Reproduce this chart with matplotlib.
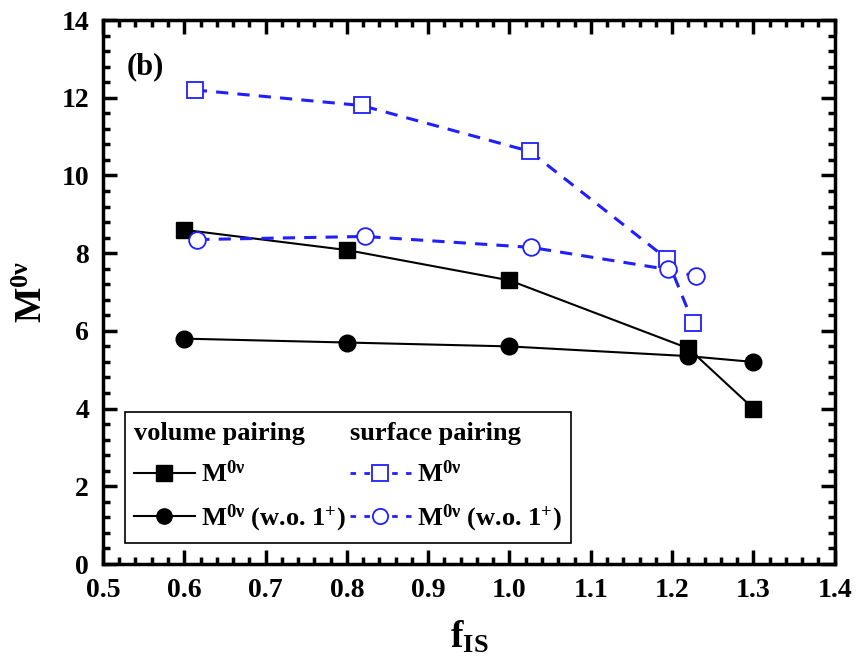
import matplotlib
matplotlib.use("Agg")
import matplotlib.pyplot as plt
from matplotlib.lines import Line2D
from matplotlib.ticker import MultipleLocator

plt.rcParams["font.family"] = ["Liberation Serif", "DejaVu Serif"]
plt.rcParams["font.weight"] = "bold"
plt.rcParams["mathtext.fontset"] = "custom"
plt.rcParams["mathtext.rm"] = "Liberation Serif:bold"
plt.rcParams["mathtext.it"] = "Liberation Serif:bold"
plt.rcParams["mathtext.bf"] = "Liberation Serif:bold"

# volume pairing
vol_x = [0.6, 0.8, 1.0, 1.22, 1.3]
vol_m = [8.6, 8.08, 7.3, 5.55, 4.0]
vol_m_wo = [5.8, 5.7, 5.6, 5.35, 5.2]

# surface pairing
surf_x_m = [0.613, 0.818, 1.025, 1.194, 1.226]
surf_m = [12.2, 11.8, 10.62, 7.85, 6.2]
surf_x_wo = [0.616, 0.822, 1.026, 1.195, 1.23]
surf_m_wo = [8.35, 8.43, 8.15, 7.58, 7.4]

M = r"$\mathrm{M}^{0\nu}$"
blue = "#1f1fff"

fig = plt.figure(figsize=(8.65, 6.67), dpi=100)
ax = fig.add_axes([0.119, 0.1544, 0.846, 0.8156])

ax.plot(vol_x, vol_m, "-s", color="black", lw=1.5, ms=11)
ax.plot(vol_x, vol_m_wo, "-o", color="black", lw=1.5, ms=12)
ax.plot(surf_x_m, surf_m, "--s", color=blue, lw=2.2, ms=11, mfc="white",
        mec=blue, mew=1.3, dashes=(4, 3))
ax.plot(surf_x_wo, surf_m_wo, "--o", color=blue, lw=2.2, ms=12, mfc="white",
        mec=blue, mew=1.3, dashes=(4, 3))

ax.set_xlim(0.5, 1.4)
ax.set_ylim(0, 14)
ax.xaxis.set_major_locator(MultipleLocator(0.1))
ax.xaxis.set_minor_locator(MultipleLocator(0.02))
ax.yaxis.set_major_locator(MultipleLocator(2))
ax.yaxis.set_minor_locator(MultipleLocator(0.4))
ax.xaxis.set_major_formatter(matplotlib.ticker.FormatStrFormatter("%.1f"))
ax.tick_params(which="both", direction="in", top=True, right=True,
               labelsize=20, width=2.5)
ax.tick_params(which="major", length=10, pad=10)
ax.tick_params(which="minor", length=5)
for s in ax.spines.values():
    s.set_linewidth(2.5)

ax.set_xlabel(r"$\mathrm{f}_{\mathrm{IS}}$", fontsize=27, labelpad=12)
ax.set_ylabel(M, fontsize=27, labelpad=8)
ax.text(0.033, 0.9, "(b)", transform=ax.transAxes, fontsize=22,
        fontweight="bold")

blank = Line2D([], [], linestyle="none")
h_sq = Line2D([], [], color="black", lw=1.5, marker="s", ms=11)
h_ci = Line2D([], [], color="black", lw=1.5, marker="o", ms=11)
h_bsq = Line2D([], [], color=blue, lw=2, ls="--", dashes=(2, 3), marker="s",
               ms=11, mfc="white", mec=blue, mew=1.3)
h_bci = Line2D([], [], color=blue, lw=2, ls="--", dashes=(2, 3), marker="o",
               ms=11, mfc="white", mec=blue, mew=1.3)
handles = [blank, h_sq, h_ci, blank, h_bsq, h_bci]
labels = ["volume pairing", M, M + " (w.o. 1$^{+}$)",
          "surface pairing", M, M + " (w.o. 1$^{+}$)"]
leg = ax.legend(handles, labels, ncol=2, loc="lower left",
                bbox_to_anchor=(0.03, 0.038), borderaxespad=0,
                fontsize=19, handlelength=2.3,
                handletextpad=0.25, columnspacing=0.15, labelspacing=0.6,
                fancybox=False, edgecolor="black", framealpha=1,
                borderpad=0.35)
leg.get_frame().set_linewidth(1.2)
# headers: drop the empty handle so the text starts at the column edge
for col in leg._legend_handle_box.get_children():
    hp = col.get_children()[0]
    hp._children = [hp._children[1]]

fig.savefig("out.png", dpi=100)
